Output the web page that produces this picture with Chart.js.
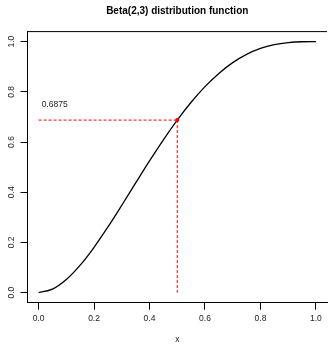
<!DOCTYPE html>
<html>
<head>
<meta charset="utf-8">
<script src="https://cdn.jsdelivr.net/npm/chart.js@4"></script>
<style>
  body { margin: 0; overflow: hidden; background: #fff; }
  #wrap { width: 331px; height: 344px; }
</style>
</head>
<body>
<div id="wrap"><canvas id="grafico" width="331" height="344"></canvas></div>
<script>
// valores
const xs = [0, 0.05, 0.1, 0.15, 0.2, 0.25, 0.3, 0.35, 0.4, 0.45, 0.5,
            0.55, 0.6, 0.65, 0.7, 0.75, 0.8, 0.85, 0.9, 0.95, 1];
const cdf = [0, 0.014, 0.0523, 0.1095, 0.1808, 0.2617, 0.3483, 0.437, 0.5248, 0.609, 0.6875,
             0.7585, 0.8208, 0.8735, 0.9163, 0.9492, 0.9728, 0.988, 0.9963, 0.9995, 1];
const puntoX = 0.5;
const puntoY = 0.6875;
const etiqueta = '0.6875';
const etiquetaX = 0.011;
const etiquetaY = 0.748;
const xTicks = [0, 0.2, 0.4, 0.6, 0.8, 1.0];
const yTicks = [0, 0.2, 0.4, 0.6, 0.8, 1.0];

const fuente = '"Liberation Sans", Arial, sans-serif';

const extras = {
  id: 'extras',
  afterDraw(chart) {
    const { ctx, chartArea, scales } = chart;
    ctx.save();
    ctx.strokeStyle = '#000';
    ctx.lineWidth = 1;
    ctx.beginPath();
    ctx.moveTo(chartArea.left, chartArea.top);
    ctx.lineTo(chartArea.right, chartArea.top);
    ctx.stroke();
    ctx.fillStyle = '#222';
    ctx.font = '8.5px ' + fuente;
    ctx.textAlign = 'left';
    ctx.textBaseline = 'middle';
    ctx.fillText(etiqueta, scales.x.getPixelForValue(etiquetaX), scales.y.getPixelForValue(etiquetaY));
    ctx.restore();
  }
};

new Chart(document.getElementById('grafico'), {
  type: 'line',
  data: {
    datasets: [
      {
        data: [{ x: puntoX, y: puntoY }],
        showLine: false,
        pointRadius: 2,
        pointBackgroundColor: '#ff0000',
        pointBorderColor: '#ff0000',
        pointBorderWidth: 0
      },
      {
        data: [{ x: 0, y: puntoY }, { x: puntoX, y: puntoY }],
        borderColor: '#ff0000',
        borderWidth: 1,
        borderDash: [3, 2],
        pointRadius: 0
      },
      {
        data: [{ x: puntoX, y: puntoY }, { x: puntoX, y: 0 }],
        borderColor: '#ff0000',
        borderWidth: 1,
        borderDash: [3, 2],
        pointRadius: 0
      },
      {
        data: xs.map((x, i) => ({ x, y: cdf[i] })),
        borderColor: '#000',
        borderWidth: 1.3,
        cubicInterpolationMode: 'monotone',
        pointRadius: 0
      }
    ]
  },
  options: {
    responsive: false,
    animation: false,
    layout: { padding: 0 },
    plugins: {
      legend: { display: false },
      tooltip: { enabled: false },
      title: {
        display: true,
        text: 'Beta(2,3) distribution function',
        fullSize: false,
        color: '#000',
        font: { family: fuente, size: 10, weight: 'bold', lineHeight: 1.2 },
        padding: { top: 5.5, bottom: 14.1 }
      }
    },
    scales: {
      x: {
        type: 'linear',
        min: -0.04,
        max: 1.04,
        afterBuildTicks: s => { s.ticks = xTicks.map(v => ({ value: v })); },
        afterFit: s => { s.height = 41.3; },
        grid: { drawOnChartArea: false, drawTicks: true, tickLength: 7, color: '#000' },
        border: { display: true, color: '#000', width: 1 },
        ticks: {
          color: '#222',
          padding: 4,
          maxRotation: 0,
          font: { family: fuente, size: 8.5 },
          callback: v => v.toFixed(1)
        },
        title: {
          display: true,
          text: 'x',
          color: '#222',
          padding: { top: 0, bottom: -1 },
          font: { family: fuente, size: 8.5 }
        }
      },
      y: {
        type: 'linear',
        min: -0.04,
        max: 1.04,
        afterBuildTicks: s => { s.ticks = yTicks.map(v => ({ value: v })); },
        afterFit: s => { s.width = 27.5; },
        grid: { drawOnChartArea: false, drawTicks: true, tickLength: 7, color: '#000' },
        border: { display: true, color: '#000', width: 1 },
        ticks: {
          color: '#222',
          padding: 3,
          minRotation: 90,
          maxRotation: 90,
          crossAlign: 'center',
          font: { family: fuente, size: 8.5 },
          callback: v => v.toFixed(1)
        }
      }
    }
  },
  plugins: [extras]
});
</script>
</body>
</html>
